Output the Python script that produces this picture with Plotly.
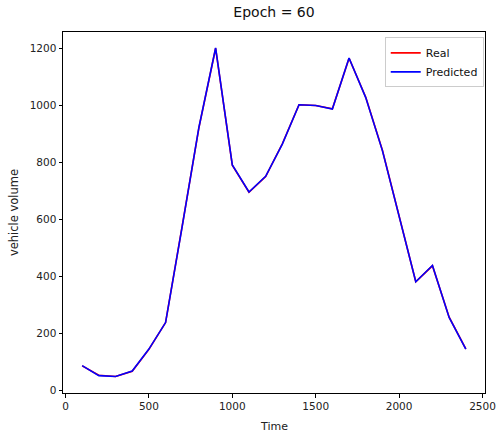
import plotly.graph_objects as go

time = [100, 200, 300, 400, 500, 600, 700, 800, 900, 1000, 1100, 1200,
        1300, 1400, 1500, 1600, 1700, 1800, 1900, 2000, 2100, 2200, 2300, 2400]
real = [86, 53, 49, 67, 144, 238, 578, 922, 1200, 790, 695, 750,
        865, 1002, 999, 988, 1165, 1028, 842, 610, 381, 437, 257, 146]
predicted = [87, 52, 49, 68, 145, 238, 576, 923, 1201, 791, 696, 751,
             864, 1002, 999, 987, 1166, 1027, 841, 611, 381, 438, 256, 145]

fig = go.Figure()
fig.add_trace(go.Scatter(x=time, y=real, mode="lines", name="Real",
                         line=dict(color="red", width=1.6)))
fig.add_trace(go.Scatter(x=time, y=predicted, mode="lines", name="Predicted",
                         line=dict(color="blue", width=1.6)))

font = "DejaVu Sans"
fig.update_layout(
    width=498, height=433,
    margin=dict(l=63, r=13, t=32, b=40),
    paper_bgcolor="white", plot_bgcolor="white",
    font=dict(family=font, size=10.5, color="#222"),
    title=dict(text="Epoch = 60", x=0.5, xref="paper", xanchor="center",
               y=1, yref="container", yanchor="top", pad=dict(t=7),
               font=dict(family=font, size=14, color="#111")),
    showlegend=True,
    legend=dict(x=0.997, y=0.985, xanchor="right", yanchor="top",
                bgcolor="rgba(255,255,255,0.8)", bordercolor="#ccc", borderwidth=1,
                font=dict(family=font, size=11, color="#111"),
                tracegroupgap=0, itemwidth=30),
    annotations=[dict(text="Time", xref="paper", yref="paper", x=0.5, y=-0.094,
                      xanchor="center", yanchor="middle", showarrow=False,
                      font=dict(family=font, size=11, color="#222"))],
)
fig.update_xaxes(range=[-15, 2515], tickvals=[0, 500, 1000, 1500, 2000, 2500],
                 showgrid=False, zeroline=False, showline=True, linecolor="black",
                 linewidth=1, mirror=True, ticks="outside", ticklen=3.5, tickcolor="black",
                 automargin=False)
fig.update_yaxes(range=[-9, 1257], tickvals=[0, 200, 400, 600, 800, 1000, 1200],
                 showgrid=False, zeroline=False, showline=True, linecolor="black",
                 linewidth=1, mirror=True, ticks="outside", ticklen=3.5, tickcolor="black",
                 title=dict(text="vehicle volume", standoff=8, font=dict(family=font, size=11.5, color="#222")))

fig.write_html("out.html")
